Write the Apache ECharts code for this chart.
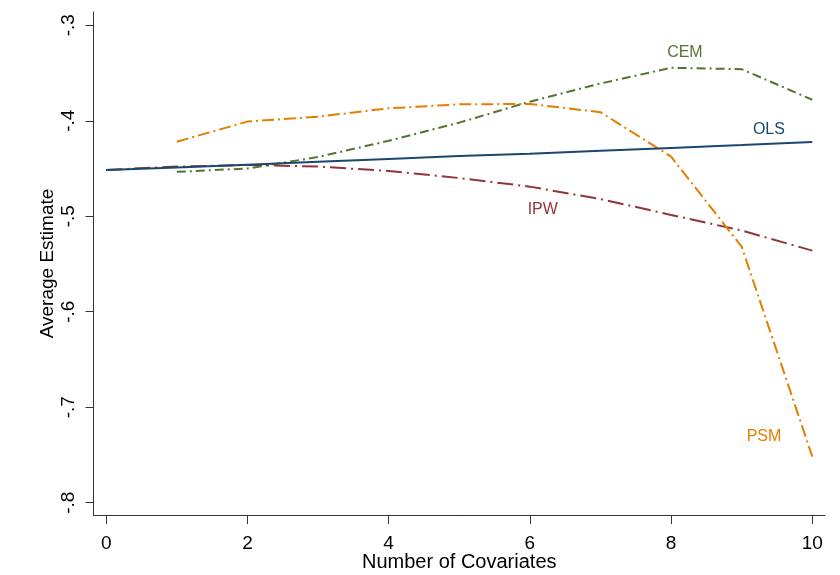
<!DOCTYPE html>
<html>
<head>
<meta charset="utf-8">
<script src="https://cdn.jsdelivr.net/npm/echarts@6/dist/echarts.min.js"></script>
<style>
html,body{margin:0;padding:0;background:#fff;}
#chart{width:840px;height:575px;}
</style>
</head>
<body>
<div id="chart"></div>
<script>
// ---- data ----
var covariates = [0, 1, 2, 3, 4, 5, 6, 7, 8, 9, 10];
var ols = [-0.4515, -0.449, -0.446, -0.443, -0.440, -0.437, -0.4345, -0.4315, -0.4285, -0.4255, -0.4222];
var ipw = [-0.4515, -0.448, -0.4463, -0.448, -0.4526, -0.460, -0.469, -0.482, -0.4986, -0.515, -0.536];
var cem = [null, -0.4535, -0.450, -0.438, -0.421, -0.402, -0.380, -0.361, -0.3445, -0.346, -0.378];
var psm = [null, -0.4219, -0.4009, -0.3957, -0.387, -0.3828, -0.3824, -0.391, -0.4376, -0.5319, -0.7517];
var xTicks = [0, 2, 4, 6, 8, 10];
var yTicks = [-0.8, -0.7, -0.6, -0.5, -0.4, -0.3];
var seriesNames = ['OLS', 'IPW', 'CEM', 'PSM'];
var labelPos = { OLS: [9.386, -0.4096], IPW: [6.183, -0.4929], CEM: [8.196, -0.3285], PSM: [9.316, -0.7311] };

// ---- styles ----
var colors = { OLS: '#1a476f', IPW: '#90353b', CEM: '#55752f', PSM: '#e37e00' };
var dashes = { OLS: 'solid', IPW: [16, 5, 2, 5], CEM: [9, 4, 2, 4], PSM: [12, 4, 2, 4] };
var values = { OLS: ols, IPW: ipw, CEM: cem, PSM: psm };
var FONT = '"Liberation Sans", Arial, sans-serif';

function pairs(arr) {
  var out = [];
  for (var i = 0; i < covariates.length; i++) {
    if (arr[i] !== null) out.push([covariates[i], arr[i]]);
  }
  return out;
}

var series = seriesNames.map(function (name) {
  return {
    name: name,
    type: 'line',
    data: pairs(values[name]),
    symbol: 'none',
    smooth: false,
    lineStyle: { color: colors[name], width: 2, type: dashes[name] },
    z: name === 'OLS' ? 3 : 2,
    markPoint: {
      symbol: 'circle',
      symbolSize: 2,
      itemStyle: { color: 'rgba(0,0,0,0)' },
      silent: true,
      animation: false,
      label: {
        show: true,
        position: 'inside',
        formatter: name,
        color: colors[name],
        fontSize: 16,
        fontFamily: FONT
      },
      data: [{ coord: labelPos[name] }]
    }
  };
});

var chart = echarts.init(document.getElementById('chart'), null, { renderer: 'canvas' });
chart.setOption({
  backgroundColor: '#ffffff',
  animation: false,
  grid: { left: 93.5, right: 15, top: 12, bottom: 60, containLabel: false, outerBoundsMode: 'none' },
  xAxis: {
    type: 'value',
    min: -0.18,
    max: 10.18,
    name: 'Number of Covariates',
    nameLocation: 'middle',
    nameGap: 37,
    nameMoveOverlap: false,
    nameTextStyle: { color: '#000', fontSize: 20, fontFamily: FONT },
    axisLine: { show: true, onZero: false, lineStyle: { color: '#333', width: 1 } },
    axisTick: { show: true, length: 9, customValues: xTicks, lineStyle: { color: '#333' } },
    axisLabel: { customValues: xTicks, color: '#000', fontSize: 19, fontFamily: FONT, margin: 19 },
    splitLine: { show: false }
  },
  yAxis: {
    type: 'value',
    min: -0.8129,
    max: -0.2861,
    name: 'Average Estimate',
    nameLocation: 'middle',
    nameRotate: 90,
    nameGap: 36,
    nameMoveOverlap: false,
    nameTextStyle: { color: '#000', fontSize: 19, fontFamily: FONT },
    axisLine: { show: true, onZero: false, lineStyle: { color: '#333', width: 1 } },
    axisTick: { show: true, length: 8, customValues: yTicks, lineStyle: { color: '#333' } },
    axisLabel: {
      customValues: yTicks,
      rotate: 90,
      color: '#000',
      fontSize: 19,
      fontFamily: FONT,
      margin: 15,
      formatter: function (v) { return v.toFixed(1).replace('0.', '.'); }
    },
    splitLine: { show: false }
  },
  series: series
});
</script>
</body>
</html>
